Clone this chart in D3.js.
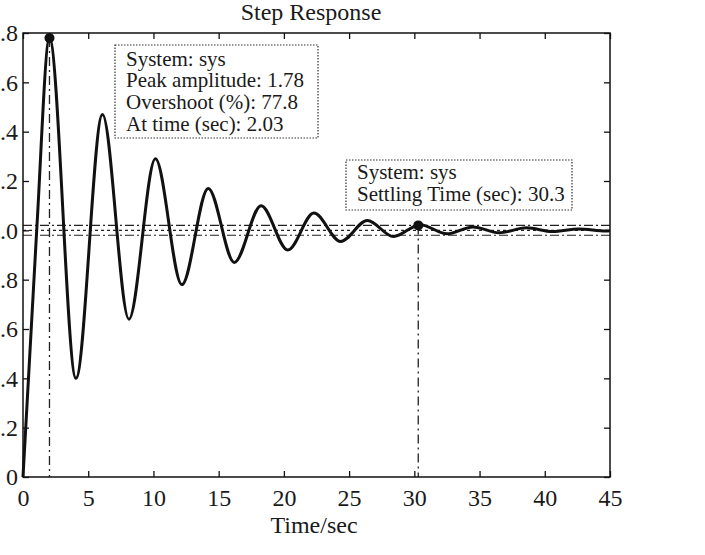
<!DOCTYPE html>
<html>
<head>
<meta charset="utf-8">
<script src="https://d3js.org/d3.v7.min.js"></script>
<style>
  body { margin: 0; background: #fff; }
  svg text { font-family: "Liberation Serif", "Times New Roman", serif; fill: #1a1a1a; }
</style>
</head>
<body>
<svg id="main_graph" width="705" height="555"></svg>

<script>
// step response (peaks / troughs)
var times  = [0, 1.05, 2.03, 4.06, 6.09, 8.12, 10.15, 12.18, 14.2, 16.2, 18.25, 20.3, 22.3, 24.35, 26.4, 28.4, 30.45, 32.5, 34.5, 36.5, 38.6, 40.6, 42.6, 44.7, 45];
var values = [0, 1.0, 1.78, 0.40, 1.47, 0.64, 1.29, 0.78, 1.17, 0.87, 1.10, 0.92, 1.07, 0.955, 1.04, 0.975, 1.023, 0.986, 1.014, 0.99, 1.01, 0.995, 1.005, 0.997, 0.998];

var xTicks = [0, 5, 10, 15, 20, 25, 30, 35, 40, 45];
var yTicks = [0, 0.2, 0.4, 0.6, 0.8, 1.0, 1.2, 1.4, 1.6, 1.8];
var yTickLabels = ["0", "0.2", "0.4", "0.6", "0.8", "1.0", "1.2", "1.4", "1.6", "1.8"];

var peak     = {t: 2.03, v: 1.78};
var settling = {t: 30.3, v: 1.02};
var bandLevels = [1.02, 1.0, 0.98];

var peakTip     = ["System: sys", "Peak amplitude: 1.78", "Overshoot (%): 77.8", "At time (sec): 2.03"];
var settlingTip = ["System: sys", "Settling Time (sec): 30.3"];

var svg = d3.select("svg");

var x = d3.scaleLinear().domain([0, 45]).range([23, 610]);
var y = d3.scaleLinear().domain([0, 1.8]).range([477, 33]);

var g = svg.append("g");

// settling band lines
var bandDash = ["9,3,2,3", "3,3", "9,3,2,3"];
g.selectAll(".band")
    .data(bandLevels)
    .enter().append("line")
    .attr("x1", x(0)).attr("x2", x(45))
    .attr("y1", function(d) { return y(d); })
    .attr("y2", function(d) { return y(d); })
    .attr("stroke", "#222")
    .attr("stroke-width", 1.1)
    .attr("stroke-dasharray", function(d, i) { return bandDash[i]; });

// vertical markers
[peak, settling].forEach(function(p) {
  g.append("line")
      .attr("x1", x(p.t)).attr("x2", x(p.t))
      .attr("y1", y(p.v)).attr("y2", y(0))
      .attr("stroke", "#222")
      .attr("stroke-width", 1.3)
      .attr("stroke-dasharray", "9,4,2,4");
});

// the response
var line = d3.line()
    .curve(d3.curveMonotoneX)
    .x(function(d, i) { return x(times[i]); })
    .y(function(d) { return y(d); });

g.append("path")
    .datum(values)
    .attr("fill", "none")
    .attr("stroke", "#111")
    .attr("stroke-width", 3)
    .attr("stroke-linejoin", "round")
    .attr("d", line);

// box + ticks (matlab style, ticks inside on all sides)
g.append("rect")
    .attr("x", x(0)).attr("y", y(1.8))
    .attr("width", x(45) - x(0)).attr("height", y(0) - y(1.8))
    .attr("fill", "none").attr("stroke", "#111").attr("stroke-width", 1.5);

g.append("g")
    .attr("transform", "translate(0," + y(0) + ")")
    .call(d3.axisBottom(x).tickValues(xTicks).tickSize(-6).tickPadding(12).tickFormat(d3.format("d")))
    .call(function(a) { a.select(".domain").remove(); });

g.append("g")
    .attr("transform", "translate(0," + y(1.8) + ")")
    .call(d3.axisTop(x).tickValues(xTicks).tickSize(-6).tickFormat(""))
    .call(function(a) { a.select(".domain").remove(); });

g.append("g")
    .attr("transform", "translate(" + x(0) + ",0)")
    .call(d3.axisLeft(y).tickValues(yTicks).tickSize(-6).tickPadding(5)
      .tickFormat(function(d, i) { return yTickLabels[i]; }))
    .call(function(a) { a.select(".domain").remove(); });

g.append("g")
    .attr("transform", "translate(" + x(45) + ",0)")
    .call(d3.axisRight(y).tickValues(yTicks).tickSize(-6).tickFormat(""))
    .call(function(a) { a.select(".domain").remove(); });

svg.selectAll(".tick line").attr("stroke", "#111").attr("stroke-width", 1.3);
svg.selectAll(".tick text")
    .attr("font-family", "Liberation Serif, serif")
    .attr("font-size", 24)
    .attr("fill", "#1a1a1a");

// markers
g.selectAll(".dot")
    .data([peak, settling])
    .enter().append("circle")
    .attr("cx", function(d) { return x(d.t); })
    .attr("cy", function(d) { return y(d.v); })
    .attr("r", 5)
    .attr("fill", "#111");

// data tips
function dataTip(left, top, w, h, lines, base) {
  g.append("rect")
      .attr("x", left).attr("y", top)
      .attr("width", w).attr("height", h)
      .attr("fill", "#fff")
      .attr("stroke", "#333")
      .attr("stroke-width", 1.2)
      .attr("stroke-dasharray", "1.5,1.5");
  g.selectAll(null)
      .data(lines)
      .enter().append("text")
      .attr("x", left + 11)
      .attr("y", function(d, i) { return base + i * 21.8; })
      .attr("font-size", 21)
      .text(function(d) { return d; });
}
dataTip(115, 45, 203, 93, peakTip, 65.5);
dataTip(346, 160, 226, 50, settlingTip, 179);

// titles
svg.append("text")
    .attr("x", 311).attr("y", 20)
    .attr("text-anchor", "middle")
    .attr("font-size", 24)
    .text("Step Response");

svg.append("text")
    .attr("x", 314).attr("y", 533)
    .attr("text-anchor", "middle")
    .attr("font-size", 24)
    .text("Time/sec");
</script>
</body>
</html>
